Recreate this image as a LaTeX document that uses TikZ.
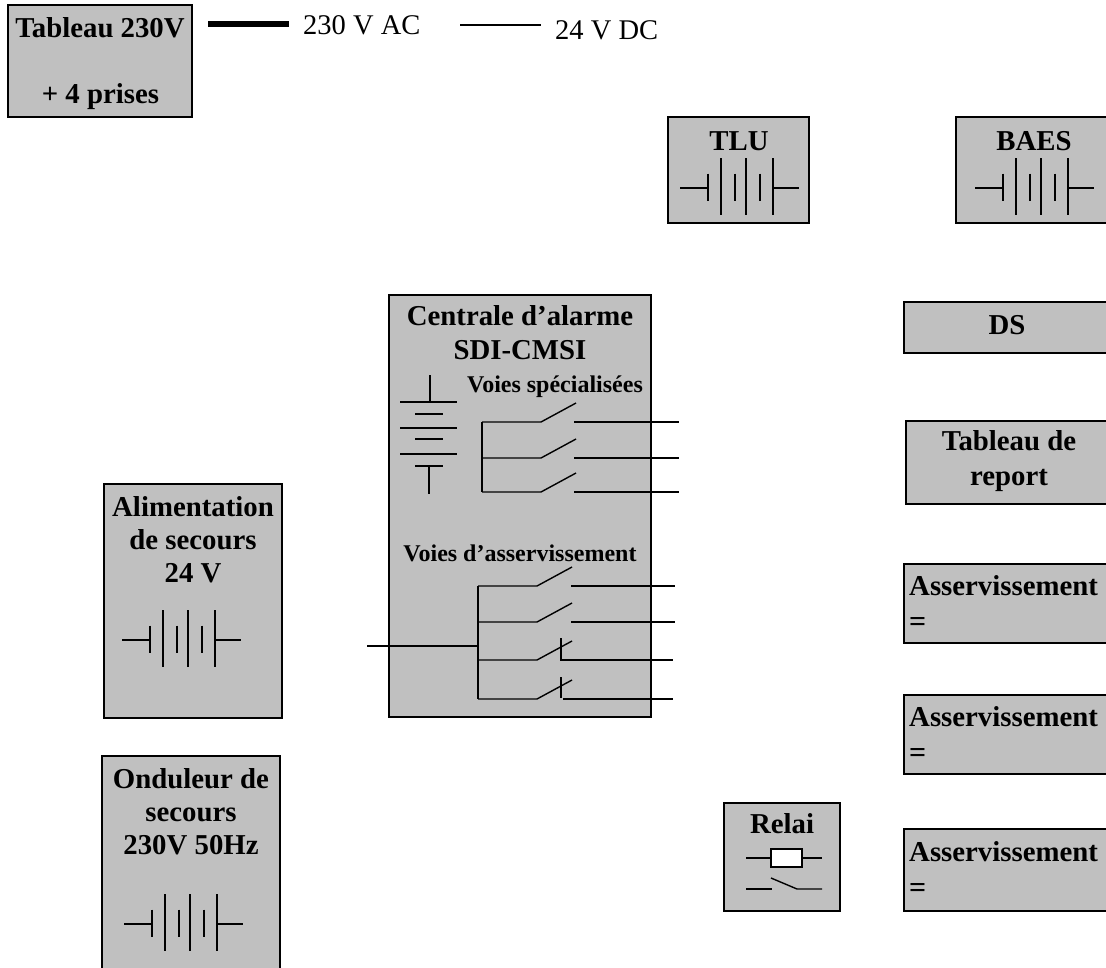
\documentclass[tikz,border=0pt]{standalone}
\usepackage{fontspec}
\setmainfont{Liberation Serif}
\newcommand{\battH}[2]{%
  \draw[wire] (#1,{#2+1.5}) -- ++(28,0);
  \draw[wire] ({#1+93},{#2+1.5}) -- ++(26,0);
  \foreach \dx in {28,55,80} \draw[wire] ({#1+\dx},{#2-13}) -- ++(0,27);
  \foreach \dx in {41,66,93} \draw[wire] ({#1+\dx},{#2-28.5}) -- ++(0,57);
}
\tikzset{
  x=1pt,y=-1pt,
  wire/.style={draw=black,line width=1.4pt},
  unit/.style={draw=black,fill=unitgrey,line width=1.5pt,inner sep=0pt,outer sep=0pt},
  big/.style={font=\bfseries\fontsize{28.8}{33}\selectfont,anchor=base,inner sep=0pt,text=black},
  mid/.style={font=\bfseries\fontsize{24}{28}\selectfont,anchor=base,inner sep=0pt,text=black},
  plain/.style={font=\fontsize{28.5}{33}\selectfont,inner sep=0pt,text=black},
}
\definecolor{unitgrey}{HTML}{C0C0C0}
\newcommand{\unitbox}[5]{%
  \node[unit,minimum width={(#4-#2)*1pt},minimum height={(#5-#3)*1pt}] (#1) at ({(#2+#4)/2},{(#3+#5)/2}) {};
}
\begin{document}
\begin{tikzpicture}
\clip (0,0) rectangle (1106,967);
\fill[white] (0,0) rectangle (1106,967);
% boxes
\unitbox{tableau}{8}{5}{192}{117}
\unitbox{tlu}{668}{117}{809}{223}
\unitbox{baes}{956}{117}{1125}{223}
\unitbox{ds}{904}{302}{1125}{353}
\unitbox{report}{906}{421}{1125}{504}
\unitbox{asa}{904}{564}{1125}{643}
\unitbox{asb}{904}{695}{1125}{774}
\unitbox{asc}{904}{829}{1125}{911}
\unitbox{relai}{724}{803}{840}{911}
\unitbox{centrale}{389}{295}{651}{717}
\unitbox{alim}{104}{484}{282}{718}
\unitbox{ond}{102}{756}{280}{985}
% legend
\coordinate (ka) at (208,23.5); \coordinate (kb) at (289,23.5);
\draw[black,line width=6pt] (ka) -- (kb);
\coordinate (kc) at (460,25); \coordinate (kd) at (541,25);
\draw[wire] (kc) -- (kd);
\node[plain,anchor=base west] (tac) at (303,34) {230 V AC};
\node[plain,anchor=base west] (tdc) at (555,39) {24 V DC};
% labels
\node[big] (l1) at (100,37) {Tableau 230V};
\node[big] (l2) at (100.5,103) {+ 4 prises};
\node[big] (l3) at (739,150) {TLU};
\node[big] (l4) at (1034,150) {BAES};
\node[big] (l5) at (520,325) {Centrale d’alarme};
\node[big] (l6) at (520,359) {SDI-CMSI};
\node[mid] (l7) at (555,392) {Voies spécialisées};
\node[mid] (l8) at (520,561) {Voies d’asservissement};
\node[big] (l9) at (1007,334) {DS};
\node[big] (l10) at (1009,450) {Tableau de};
\node[big] (l11) at (1009,485) {report};
\node[big] (l12) at (193,516) {Alimentation};
\node[big] (l13) at (193,549) {de secours};
\node[big] (l14) at (193,582) {24 V};
\node[big] (l15) at (191,788) {Onduleur de};
\node[big] (l16) at (191,821) {secours};
\node[big] (l17) at (191,854) {230V 50Hz};
\node[big] (l18) at (782,833) {Relai};
\foreach \n/\by in {a/595,b/726,c/861}{
  \node[big,anchor=base west] (as\n t) at (909,\by) {Asservissement};
  \node[font=\bfseries\fontsize{30}{33}\selectfont,inner sep=0pt,text=black,anchor=base west] (as\n e) at (909,{\by+36}) {=};
}
% batteries
\battH{680}{186.5}
\battH{975}{186.5}
\battH{122}{638.5}
\battH{124}{922.5}
% centrale battery
\draw[wire] (430,375) -- (430,402);
\foreach \yy in {402,428,454} \draw[wire] (400,\yy) -- (457,\yy);
\foreach \yy in {414,439,466} \draw[wire] (415,\yy) -- (443,\yy);
\draw[wire] (429,466) -- (429,494);
% specialised switches
\draw[wire] (482,422) -- (482,492);
\foreach \yy in {422,458,492}{
  \draw[wire] (482,\yy) -- (541,\yy) -- (576,{\yy-19});
  \draw[wire] (574,\yy) -- (679,\yy);
}
% slaved switches
\draw[wire] (478,586) -- (478,699);
\coordinate (inp) at (367,646); \coordinate (busin) at (478,646);
\draw[wire] (inp) -- (busin);
\foreach \yy in {586,622,660,699}{
  \draw[wire] (478,\yy) -- (537,\yy) -- (572,{\yy-19});
}
\draw[wire] (571,586) -- (675,586);
\draw[wire] (571,622) -- (675,622);
\draw[wire] (561,638) -- (561,660) -- (673,660);
\draw[wire] (561,677) -- (561,698);
\draw[wire] (563,699) -- (673,699);
% relay
\node[draw=black,fill=white,line width=1.5pt,minimum width=31pt,minimum height=18pt,inner sep=0pt,outer sep=0pt] (coil) at (786.5,858) {};
\coordinate (ra) at (746,858); \coordinate (rb) at (822,858);
\draw[wire] (ra) -- (coil.west);
\draw[wire] (coil.east) -- (rb);
\draw[wire] (746,889) -- (772,889);
\draw[wire] (771,878) -- (797,889) -- (822,889);
\end{tikzpicture}
\end{document}
